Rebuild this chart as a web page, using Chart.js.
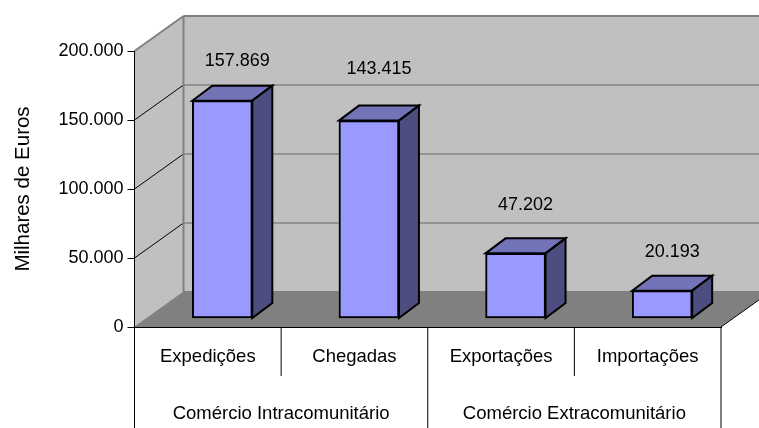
<!DOCTYPE html>
<html>
<head>
<meta charset="utf-8">
<style>
  html, body { margin: 0; padding: 0; background: #fff; }
  canvas { display: block; }
</style>
<script src="https://cdn.jsdelivr.net/npm/chart.js@4"></script>
</head>
<body>
<canvas id="grafico" width="759" height="428"></canvas>
<script>
const CATEGORIAS = ['Expedições', 'Chegadas', 'Exportações', 'Importações'];
const GRUPOS = ['Comércio Intracomunitário', 'Comércio Extracomunitário'];
const VALORES = [157869, 143415, 47202, 20193];
const TICKS_Y = [0, 50000, 100000, 150000, 200000];
const TITULO_Y = 'Milhares de Euros';

const FONTE = "'Liberation Sans', Arial, sans-serif";
const TAM = 18;
const TAM_X = 18.5;
const PROF_X = 49, PROF_Y = 35;      // profundidade da caixa
const BARRA_DX = 14.5, BARRA_DY = 8.5; // recuo das barras dentro da caixa
const BARRA_PX = 20, BARRA_PY = 15;  // profundidade das barras
const ELEVA_ROTULO = [39.5, 51.5, 48.5, 38.5];
const DESVIO_ROTULO = [15, 10, 10, 10];

const milhares = (v) => String(v).replace(/\B(?=(\d{3})+$)/g, '.');

function poligono(ctx, pts, fill, stroke, lw) {
  ctx.beginPath();
  pts.forEach((p, i) => (i ? ctx.lineTo(p[0], p[1]) : ctx.moveTo(p[0], p[1])));
  ctx.closePath();
  if (fill) { ctx.fillStyle = fill; ctx.fill(); }
  if (stroke) { ctx.strokeStyle = stroke; ctx.lineWidth = lw; ctx.lineJoin = 'miter'; ctx.stroke(); }
}

function linha(ctx, x1, y1, x2, y2, cor, lw) {
  ctx.beginPath();
  ctx.moveTo(x1, y1);
  ctx.lineTo(x2, y2);
  ctx.strokeStyle = cor;
  ctx.lineWidth = lw;
  ctx.stroke();
}

const caixa3d = {
  id: 'caixa3d',
  beforeDraw(chart) {
    const { ctx, chartArea: a, scales: { y } } = chart;
    ctx.save();
    poligono(ctx, [[a.left + PROF_X, a.top - PROF_Y], [a.right + PROF_X, a.top - PROF_Y],
      [a.right + PROF_X, a.bottom - PROF_Y], [a.left + PROF_X, a.bottom - PROF_Y]], '#c0c0c0');
    poligono(ctx, [[a.left, a.top], [a.left + PROF_X, a.top - PROF_Y],
      [a.left + PROF_X, a.bottom - PROF_Y], [a.left, a.bottom]], '#c0c0c0');
    poligono(ctx, [[a.left, a.bottom], [a.right, a.bottom],
      [a.right + PROF_X, a.bottom - PROF_Y], [a.left + PROF_X, a.bottom - PROF_Y]], '#808080');
    TICKS_Y.slice(1, -1).forEach((v) => {
      const py = y.getPixelForValue(v);
      linha(ctx, a.left, py, a.left + PROF_X, py - PROF_Y, '#000', 1);
      linha(ctx, a.left + PROF_X, py - PROF_Y, a.right + PROF_X, py - PROF_Y, '#666', 1);
    });
    linha(ctx, a.left, a.top, a.left + PROF_X, a.top - PROF_Y, '#808080', 2);
    linha(ctx, a.left + PROF_X, a.top - PROF_Y, a.right + PROF_X, a.top - PROF_Y, '#808080', 2);
    linha(ctx, a.left + PROF_X, a.top - PROF_Y, a.left + PROF_X, a.bottom - PROF_Y, '#808080', 2);
    linha(ctx, a.left + PROF_X, a.bottom - PROF_Y, a.right + PROF_X, a.bottom - PROF_Y, '#808080', 2);
    linha(ctx, a.left, a.bottom, a.left + PROF_X, a.bottom - PROF_Y, '#808080', 1);
    linha(ctx, a.right, a.bottom, a.right + PROF_X, a.bottom - PROF_Y, '#000', 1);
    ctx.restore();
  },
  beforeDatasetsDraw(chart) {
    const { ctx } = chart;
    ctx.save();
    chart.getDatasetMeta(0).data.forEach((bar) => {
      const esq = bar.x - bar.width / 2 + BARRA_DX;
      const dir = bar.x + bar.width / 2 + BARRA_DX;
      const topo = bar.y - BARRA_DY;
      const base = bar.base - BARRA_DY;
      poligono(ctx, [[esq, topo], [dir, topo], [dir + BARRA_PX, topo - BARRA_PY], [esq + BARRA_PX, topo - BARRA_PY]],
        '#7373b8', '#000', 2);
      poligono(ctx, [[dir, topo], [dir + BARRA_PX, topo - BARRA_PY], [dir + BARRA_PX, base - BARRA_PY], [dir, base]],
        '#4d4d80', '#000', 2);
    });
    ctx.restore();
  },
  beforeDatasetDraw(chart) {
    chart.ctx.save();
    chart.ctx.translate(BARRA_DX, -BARRA_DY);
  },
  afterDatasetDraw(chart) {
    chart.ctx.restore();
  },
  afterDraw(chart) {
    const { ctx, chartArea: a, scales: { x }, height } = chart;
    ctx.save();
    const passo = (a.right - a.left) / CATEGORIAS.length;
    linha(ctx, a.left, a.bottom, a.left, height, '#000', 1);
    linha(ctx, a.right, a.bottom, a.right, height, '#000', 1);
    linha(ctx, a.left + passo * 2, a.bottom, a.left + passo * 2, height, '#000', 1);
    linha(ctx, a.left + passo, a.bottom, a.left + passo, a.bottom + 49, '#000', 1);
    linha(ctx, a.left + passo * 3, a.bottom, a.left + passo * 3, a.bottom + 49, '#000', 1);

    ctx.fillStyle = '#000';
    ctx.textAlign = 'center';
    ctx.textBaseline = 'middle';
    ctx.font = `${TAM_X}px ${FONTE}`;
    GRUPOS.forEach((g, i) => {
      const meio = (x.getPixelForValue(i * 2) + x.getPixelForValue(i * 2 + 1)) / 2;
      ctx.fillText(g, meio, 414);
    });
    ctx.font = `${TAM}px ${FONTE}`;
    chart.getDatasetMeta(0).data.forEach((bar, i) => {
      ctx.fillText(milhares(VALORES[i]), bar.x + BARRA_DX + DESVIO_ROTULO[i], bar.y - BARRA_DY - ELEVA_ROTULO[i]);
    });
    ctx.restore();
  }
};

new Chart(document.getElementById('grafico').getContext('2d'), {
  type: 'bar',
  data: {
    labels: CATEGORIAS,
    datasets: [{
      data: VALORES,
      backgroundColor: '#9999ff',
      borderColor: '#000',
      borderWidth: 2,
      borderSkipped: false,
      barThickness: 60,
      clip: false
    }]
  },
  options: {
    responsive: false,
    animation: false,
    layout: { padding: { top: 51, right: 38, left: 0, bottom: 0 } },
    plugins: { legend: { display: false }, tooltip: { enabled: false } },
    scales: {
      x: {
        grid: { display: false },
        border: { color: '#000', width: 1 },
        ticks: { font: { family: FONTE, size: TAM_X }, color: '#000', padding: 11, maxRotation: 0 },
        afterFit: (s) => { s.height = 101; }
      },
      y: {
        min: 0,
        max: 200000,
        afterBuildTicks: (s) => { s.ticks = TICKS_Y.map((value) => ({ value })); },
        grid: { drawOnChartArea: false, color: '#000', tickLength: 7 },
        border: { color: '#000', width: 1 },
        ticks: { font: { family: FONTE, size: TAM }, color: '#000', padding: 4, callback: (v) => milhares(v) },
        title: { display: true, text: TITULO_Y, font: { family: FONTE, size: 20.5 }, color: '#000', padding: { top: 11, bottom: 0 } },
        afterFit: (s) => { s.width = 134.5; }
      }
    }
  },
  plugins: [caixa3d]
});
</script>
</body>
</html>
